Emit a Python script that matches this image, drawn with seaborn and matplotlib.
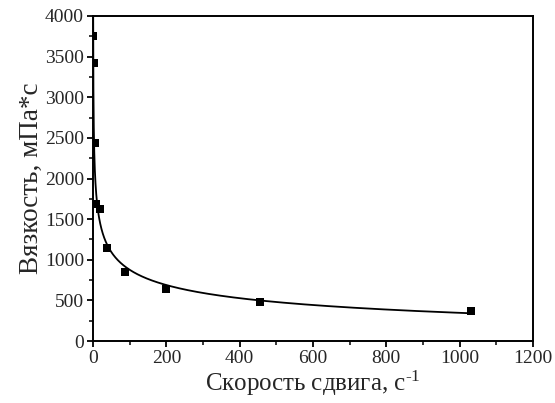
import numpy as np
import pandas as pd
import matplotlib
matplotlib.use("Agg")
import matplotlib.pyplot as plt
from matplotlib.ticker import MultipleLocator
import seaborn as sns

# Measured viscosity vs shear rate
shear_rate = [0.3, 2.5, 5.5, 8, 18, 39, 88, 200, 455, 1030]
viscosity = [3750, 3420, 2440, 1690, 1620, 1150, 850, 645, 485, 365]

x_ticks = [0, 200, 400, 600, 800, 1000, 1200]
y_ticks = [0, 500, 1000, 1500, 2000, 2500, 3000, 3500, 4000]

sns.set_theme(style="ticks")
plt.rcParams["font.family"] = ["Liberation Serif", "DejaVu Serif"]
plt.rcParams["mathtext.fontset"] = "custom"
plt.rcParams["mathtext.rm"] = "Liberation Serif"
plt.rcParams["mathtext.it"] = "Liberation Serif"

df = pd.DataFrame({"rate": shear_rate, "visc": viscosity})

# Shear-thinning fit eta = a + K * rate^b, relative least squares
xs = np.array(shear_rate, float)
ys = np.array(viscosity, float)
w = 1.0 / ys
best = None
for b in np.linspace(-1.5, -0.02, 1500):
    A = np.column_stack([np.ones_like(xs), xs ** b]) * w[:, None]
    coef, *_ = np.linalg.lstsq(A, ys * w, rcond=None)
    err = np.sum((A @ coef - ys * w) ** 2)
    if best is None or err < best[0]:
        best = (err, coef, b)
_, (a, K), b = best
xf = np.linspace(0.05, 1030, 4000)
fit = pd.DataFrame({"rate": xf, "visc": a + K * xf ** b})

fig = plt.figure(figsize=(5.55, 4.03), dpi=100)
ax = fig.add_axes([0.1676, 0.1538, 0.7928, 0.8065])

sns.lineplot(data=fit, x="rate", y="visc", ax=ax, color="black", lw=1.3, sort=False)
sns.scatterplot(data=df, x="rate", y="visc", ax=ax, marker="s", s=38,
                color="black", edgecolor="black", linewidth=0, zorder=5)

ax.set_xlim(0, 1200)
ax.set_ylim(0, 4000)
ax.set_xticks(x_ticks)
ax.set_yticks(y_ticks)
ax.xaxis.set_minor_locator(MultipleLocator(100))
ax.yaxis.set_minor_locator(MultipleLocator(250))
ax.tick_params(which="major", direction="out", length=4.5, width=1.3,
               labelsize=14, color="black", pad=2)
ax.tick_params(which="minor", direction="out", length=2.8, width=1.1, color="black")
ax.tick_params(top=False, right=False, which="both")
for s in ax.spines.values():
    s.set_linewidth(1.4)
    s.set_color("black")

ax.set_xlabel(r"Скорость сдвига, с$^{\text{-1}}$", fontsize=18, labelpad=1)
ax.set_ylabel("Вязкость, мПа*с", fontsize=19.5, labelpad=1)

fig.savefig("out.png", dpi=100, facecolor="white")
